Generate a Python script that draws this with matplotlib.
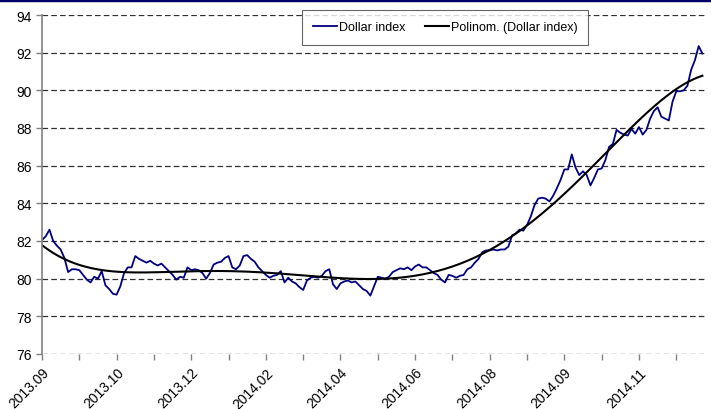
import numpy as np
import matplotlib.pyplot as plt
from matplotlib.lines import Line2D

# valori (un punto ogni 2 giorni lavorativi)
dollar_index = [
    82.05, 82.25, 82.6, 82.0, 81.75, 81.55, 81.1, 80.35, 80.5, 80.5,
    80.45, 80.2, 79.95, 79.8, 80.1, 80.0, 80.4, 79.65, 79.45, 79.2,
    79.15, 79.6, 80.3, 80.6, 80.6, 81.2, 81.05, 80.95, 80.85, 80.95,
    80.8, 80.7, 80.8, 80.6, 80.4, 80.2, 79.95, 80.1, 80.05, 80.6,
    80.45, 80.5, 80.45, 80.3, 80.0, 80.3, 80.75, 80.85, 80.9, 81.1,
    81.2, 80.6, 80.5, 80.7, 81.2, 81.25, 81.05, 80.9, 80.6, 80.4,
    80.2, 80.05, 80.15, 80.2, 80.4, 79.8, 80.05, 79.85, 79.75, 79.55,
    79.4, 79.9, 80.05, 80.1, 80.05, 80.15, 80.4, 80.5, 79.7, 79.45,
    79.75, 79.85, 79.9, 79.8, 79.85, 79.65, 79.45, 79.35, 79.1, 79.6,
    80.1, 80.05, 80.0, 80.1, 80.35, 80.45, 80.55, 80.5, 80.6, 80.45,
    80.65, 80.75, 80.6, 80.6, 80.45, 80.3, 80.2, 79.95, 79.8, 80.2,
    80.15, 80.05, 80.15, 80.2, 80.5, 80.6, 80.85, 81.05, 81.4, 81.5,
    81.5, 81.55, 81.5, 81.55, 81.55, 81.7, 82.3, 82.4, 82.6, 82.55,
    82.85, 83.3, 83.9, 84.25, 84.3, 84.25, 84.1, 84.4, 84.8, 85.25,
    85.8, 85.8, 86.6, 85.9, 85.5, 85.7, 85.5, 84.95, 85.35, 85.8,
    85.85, 86.3, 87.0, 87.15, 87.9, 87.75, 87.65, 87.6, 87.95, 87.7,
    88.05, 87.65, 87.9, 88.5, 88.9, 89.1, 88.6, 88.5, 88.4, 89.4,
    89.95, 89.95, 90.0, 90.25, 91.1, 91.6, 92.35, 91.95,
]
etichette = ['2013.09', '2013.10', '2013.12', '2014.02', '2014.04',
             '2014.06', '2014.08', '2014.09', '2014.11']

y = np.array(dollar_index)
x = np.arange(len(y))

# linea di tendenza polinomiale (come in Excel)
coeff = np.polyfit(x, y, 5)
trend = np.polyval(coeff, x)

plt.rcParams['font.family'] = ['Liberation Sans', 'DejaVu Sans']
fig = plt.figure(figsize=(7.11, 4.10), dpi=100)
ax = fig.add_axes([42/711, 55/410, 663/711, 339/410])

ax.plot(x, y, color='#000080', lw=1.3, label='Dollar index')
ax.plot(x, trend, color='black', lw=1.5, label='Polinom. (Dollar index)')

ax.set_ylim(76, 94)
ax.set_xlim(0, 177.7)
ax.set_yticks(np.arange(76, 95, 2))
ax.set_xticks(np.arange(0, 171, 10))
ax.set_xticklabels([etichette[i // 2] if i % 2 == 0 else '' for i in range(18)],
                   rotation=45, ha='right', rotation_mode='anchor')
ax.tick_params(axis='both', labelsize=10, color='#808080', length=4, width=1)
ax.tick_params(axis='x', pad=4)

for v in np.arange(76, 95, 2):
    ax.axhline(v, color='#303030', lw=0.9, ls=(0, (4.5, 2.5)), zorder=0)

for s in ['top', 'right', 'bottom']:
    ax.spines[s].set_visible(False)
ax.spines['left'].set_color('#808080')
ax.spines['left'].set_linewidth(1.2)

leg = ax.legend(loc='upper center', bbox_to_anchor=(0.608, 1.033), ncol=2,
                fontsize=9, frameon=True, fancybox=False, edgecolor='#404040',
                handlelength=1.9, handletextpad=0.15, columnspacing=1.6,
                borderpad=0.9)
leg.get_frame().set_linewidth(0.8)

# bordo blu scuro in alto
fig.add_artist(Line2D([0, 1], [0.997, 0.997], transform=fig.transFigure,
                      color='#000066', lw=2.5))

plt.savefig('out.png', dpi=100)
